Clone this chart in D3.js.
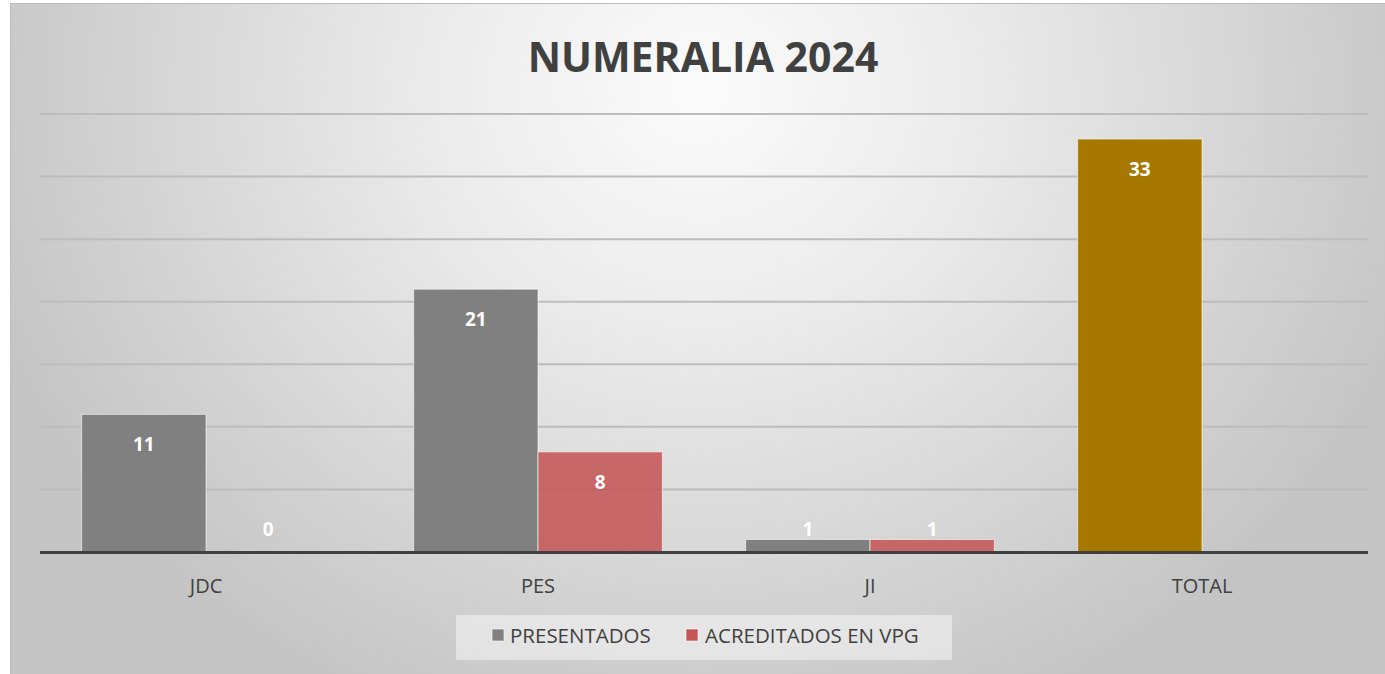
<!DOCTYPE html>
<html><head><meta charset="utf-8">
<script src="https://cdn.jsdelivr.net/npm/d3@7"></script>
<style>html,body{margin:0;padding:0;background:#fff;}svg{display:block;}</style>
</head><body>
<script>
const categories = ["JDC", "PES", "JI", "TOTAL"];
const seriesNames = ["PRESENTADOS", "ACREDITADOS EN VPG"];
const presentados = [11, 21, 1, 33];
const acreditados = [0, 8, 1, null];
const yTicks = [0, 5, 10, 15, 20, 25, 30, 35];
const titleText = "NUMERALIA 2024";

const W = 1385, H = 674;
const svg = d3.select("body").append("svg").attr("width", W).attr("height", H);
const defs = svg.append("defs");
const rg = defs.append("radialGradient").attr("id", "bg")
  .attr("gradientUnits", "userSpaceOnUse")
  .attr("cx", 700).attr("cy", 90).attr("r", 760)
  .attr("gradientTransform", "translate(700,90) scale(1,0.9) translate(-700,-90)");
rg.append("stop").attr("offset", 0).attr("stop-color", "#fbfbfb");
rg.append("stop").attr("offset", 0.35).attr("stop-color", "#ebebeb");
rg.append("stop").attr("offset", 1).attr("stop-color", "#c4c4c4");

svg.append("rect").attr("x", 10.5).attr("y", 3.5).attr("width", W + 10).attr("height", H + 10)
  .attr("fill", "url(#bg)").attr("stroke", "#bdbdbd").attr("stroke-width", 1);

const plot = {left: 40, right: 1368, top: 114, bottom: 552};
const x0 = d3.scaleBand().domain(categories).range([plot.left, plot.right]).paddingInner(0).paddingOuter(0);
const x1 = d3.scaleBand().domain(seriesNames).range([0, x0.bandwidth()]).paddingOuter(0.335).paddingInner(0);
const y = d3.scaleLinear().domain([0, 35]).range([plot.bottom, plot.top]);

// gridlines
svg.append("g").selectAll("line").data(yTicks.filter(d => d > 0)).join("line")
  .attr("x1", plot.left).attr("x2", plot.right)
  .attr("y1", d => y(d)).attr("y2", d => y(d))
  .attr("stroke", "#bcbcbc").attr("stroke-width", 2);

const colors = {"PRESENTADOS": "#808080", "ACREDITADOS EN VPG": "#c45656"};
const totalColor = "#a67800";

const data = [];
categories.forEach((c, i) => {
  data.push({cat: c, s: seriesNames[0], v: presentados[i]});
  if (acreditados[i] !== null) data.push({cat: c, s: seriesNames[1], v: acreditados[i]});
});

const g = svg.append("g");
g.selectAll("rect").data(data).join("rect")
  .attr("x", d => x0(d.cat) + x1(d.s))
  .attr("y", d => y(d.v))
  .attr("width", x1.bandwidth())
  .attr("height", d => y(0) - y(d.v))
  .attr("fill", d => d.cat === "TOTAL" ? totalColor : colors[d.s])
  .attr("fill-opacity", d => d.s === seriesNames[1] ? 0.88 : 1)
  .attr("stroke", "rgba(255,255,255,0.6)").attr("stroke-width", 1);

// axis line
svg.append("line").attr("x1", plot.left).attr("x2", plot.right)
  .attr("y1", y(0) + 0.5).attr("y2", y(0) + 0.5)
  .attr("stroke", "#404040").attr("stroke-width", 3);

// value labels
g.selectAll("text").data(data).join("text")
  .attr("x", d => x0(d.cat) + x1(d.s) + x1.bandwidth() / 2)
  .attr("y", d => Math.min(y(d.v) + 30, y(0) - 23))
  .attr("dy", "0.35em")
  .attr("text-anchor", "middle")
  .attr("font-family", "Open Sans, sans-serif").attr("font-weight", 700)
  .attr("font-size", 19).attr("fill", "#ffffff")
  .text(d => d.v);

// category axis
const xAxis = d3.axisBottom(x0).tickSize(0).tickPadding(0);
const ax = svg.append("g").attr("transform", `translate(0,${y(0)})`).call(xAxis);
ax.select(".domain").remove();
ax.selectAll("text").attr("y", 34).attr("dy", "0.35em")
  .attr("font-family", "Open Sans, sans-serif").attr("font-size", 20).attr("fill", "#404040");

// title
svg.append("text").attr("x", 703).attr("y", 58).attr("dy", "0.35em")
  .attr("text-anchor", "middle")
  .attr("font-family", "Open Sans, sans-serif").attr("font-weight", 700)
  .attr("font-size", 41).attr("fill", "#404040").text(titleText);

// legend
const lg = svg.append("g");
lg.append("rect").attr("x", 456).attr("y", 615).attr("width", 496).attr("height", 45)
  .attr("fill", "#ffffff").attr("fill-opacity", 0.45);
const legendItems = [
  {name: seriesNames[0], sx: 492, tx: 510},
  {name: seriesNames[1], sx: 686, tx: 705}
];
legendItems.forEach(it => {
  lg.append("rect").attr("x", it.sx).attr("y", 629).attr("width", 12).attr("height", 12)
    .attr("fill", colors[it.name]).attr("stroke", "rgba(255,255,255,0.6)");
  lg.append("text").attr("x", it.tx).attr("y", 636).attr("dy", "0.35em")
    .attr("font-family", "Open Sans, sans-serif").attr("font-size", 20.5).attr("fill", "#404040")
    .text(it.name);
});
</script>
</body></html>
